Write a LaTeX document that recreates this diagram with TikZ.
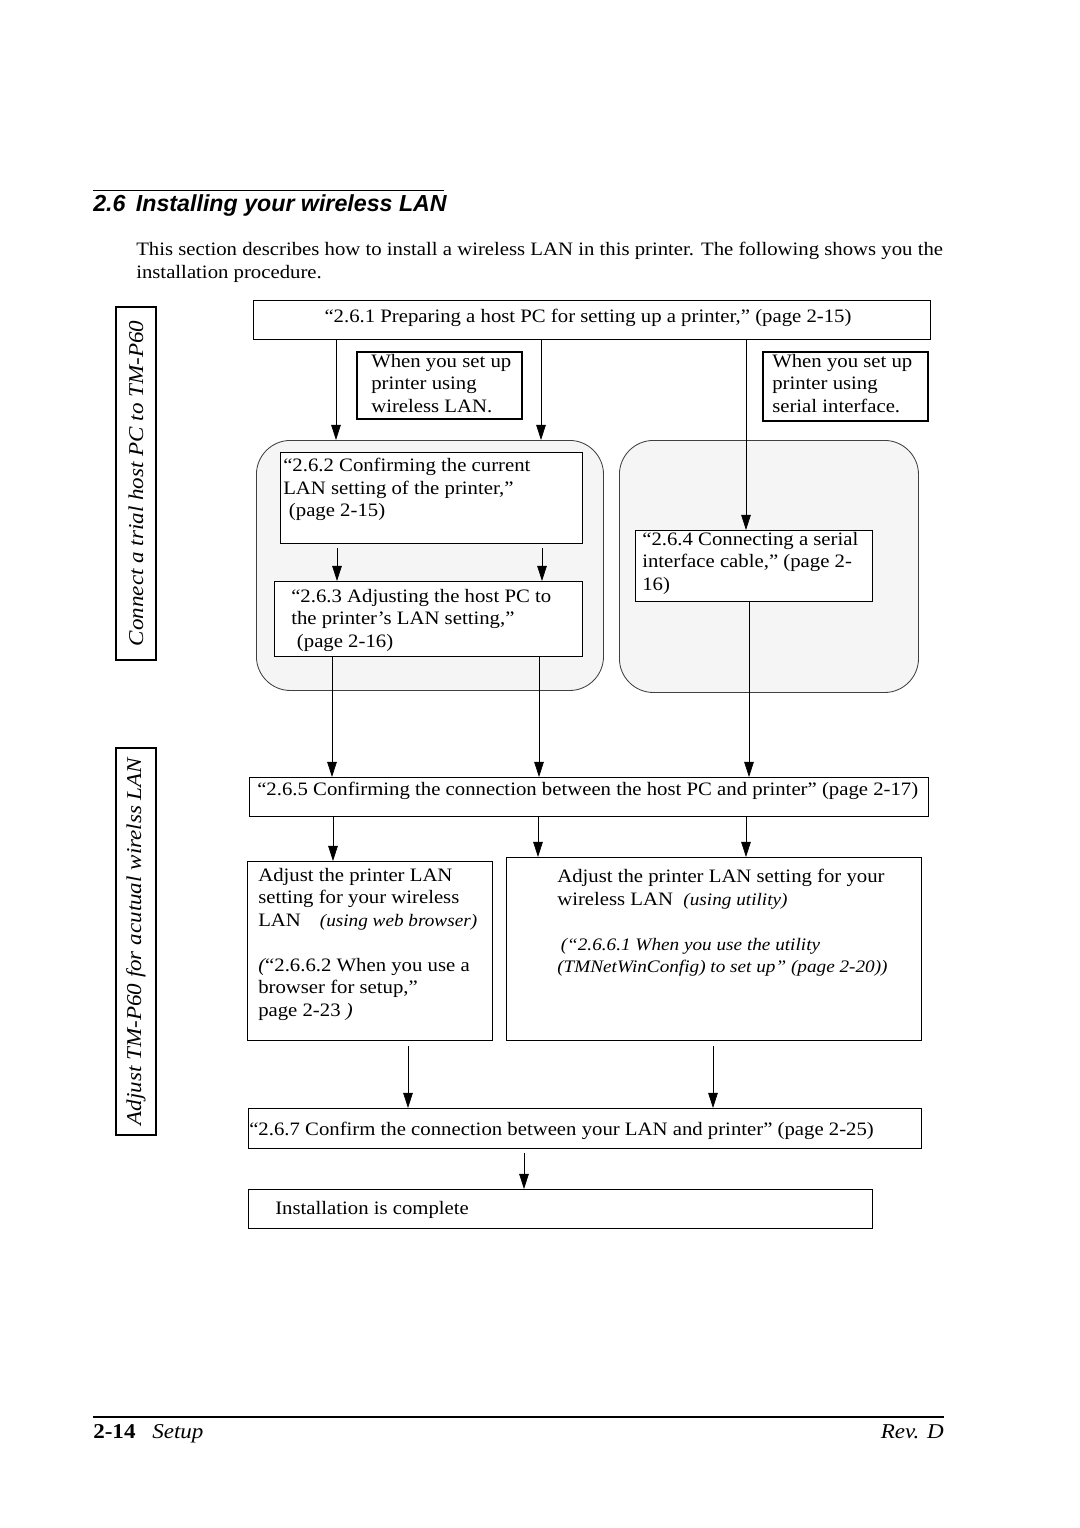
\documentclass[tikz,border=0pt]{standalone}
\usepackage{fontspec}
\setmainfont{Liberation Serif}[FakeStretch=1.093]
\newfontfamily\headfont{Liberation Sans}
\usetikzlibrary{arrows.meta,positioning}

\begin{document}
\begin{tikzpicture}[x=0.025cm,y=-0.025cm,
	box/.style={draw,fill=white,line width=0.6pt,inner sep=0pt,anchor=north west},
	tagbox/.style={draw,fill=white,line width=1.4pt,inner sep=0pt,anchor=north west},
	grp/.style={draw=black!75,fill=black!4,line width=0.6pt,rounded corners=0.85cm,inner sep=0pt,anchor=north west},
	txt/.style={inner sep=0pt,anchor=north west,align=left,font=\fontsize{13.5}{16}\selectfont},
	line/.style={inner sep=0pt,anchor=base west,font=\fontsize{13.5}{16}\selectfont},
	side/.style={draw,line width=1pt,rotate=90,inner sep=0pt,minimum height=1cm,font=\fontsize{15}{18}\selectfont\itshape},
	arr/.style={line width=0.5pt,-{Triangle[length=0.38cm,width=0.24cm]}}]

	%Page has the size of the scan (1080 x 1528 px)
	\useasboundingbox (0,0) rectangle (1080,1528);

	%Heading and intro text
	\draw[line width=0.7pt] (93,190) -- (444,190);
	\node[inner sep=0pt,anchor=base west,font=\headfont\fontsize{16.5}{20}\selectfont\bfseries\itshape] (head) at (93,211) {2.6\hspace{0.45em}Installing your wireless LAN};
	\node[txt] (intro) at (136,242) {This section describes how to install a wireless LAN in this printer. The following shows you the\\installation procedure.};

	%Side labels
	\node[side,minimum width=8.825cm] (sideA) at (136,483.5) {Connect a trial host PC to TM-P60};
	\node[side,minimum width=9.675cm] (sideB) at (136,941.5) {Adjust TM-P60 for acutual wirelss LAN};

	%Gray groups
	\node[grp,minimum width=8.675cm,minimum height=6.25cm] (grpL) at (256,440) {};
	\node[grp,minimum width=7.475cm,minimum height=6.3cm] (grpR) at (619,440) {};

	%2.6.1
	\node[box,minimum width=16.925cm,minimum height=0.975cm] (b261) at (253,300) {};
	\node[line,anchor=base] (t261) at (588,322) {``2.6.1 Preparing a host PC for setting up a printer,'' (page 2-15)};

	%When you set up ...
	\node[tagbox,minimum width=4.125cm,minimum height=1.675cm] (tagL) at (356,351) {};
	\node[txt] (ttagL) at (371,354) {When you set up\\printer using\\wireless LAN.};
	\node[tagbox,minimum width=4.125cm,minimum height=1.725cm] (tagR) at (762,351) {};
	\node[txt] (ttagR) at (772,354) {When you set up\\printer using\\serial interface.};

	%2.6.2, 2.6.3 and 2.6.4
	\node[box,minimum width=7.55cm,minimum height=2.275cm] (b262) at (280,452) {};
	\node[txt] (t262) at (283,458) {``2.6.2 Confirming the current\\LAN setting of the printer,''\\\hspace{0.3em}(page 2-15)};
	\node[box,minimum width=7.7cm,minimum height=1.875cm] (b263) at (274,581) {};
	\node[txt] (t263) at (291,589) {``2.6.3 Adjusting the host PC to\\the printer's LAN setting,''\\\hspace{0.3em}(page 2-16)};
	\node[box,minimum width=5.925cm,minimum height=1.775cm] (b264) at (635,530) {};
	\node[txt] (t264) at (642,532) {``2.6.4 Connecting a serial\\interface cable,'' (page 2-\\16)};

	%2.6.5
	\node[box,minimum width=16.975cm,minimum height=0.975cm] (b265) at (249,777) {};
	\node[line] (t265) at (257,795) {``2.6.5 Confirming the connection between the host PC and printer'' (page 2-17)};

	%2.6.6.x
	\node[box,minimum width=6.125cm,minimum height=4.475cm] (b2662) at (247,861) {};
	\node[txt] (t2662) at (258,868) {Adjust the printer LAN\\setting for your wireless\\LAN\quad{\fontsize{12.5}{16}\selectfont\itshape (using web browser)}\\[16pt]{\itshape(}``2.6.6.2 When you use a\\browser for setup,''\\page 2-23 {\itshape)}};
	\node[box,minimum width=10.375cm,minimum height=4.575cm] (b2661) at (506,857) {};
	\node[txt] (t2661) at (557,869) {Adjust the printer LAN setting for your\\wireless LAN\ \ {\fontsize{12.5}{16}\selectfont\itshape(using utility)}\\[16pt]{\fontsize{12.5}{16}\selectfont\itshape\hspace{0.2em}(``2.6.6.1 When you use the utility}\\{\fontsize{12.5}{16}\selectfont\itshape(TMNetWinConfig) to set up'' (page 2-20))}};

	%2.6.7 and end
	\node[box,minimum width=16.825cm,minimum height=1cm] (b267) at (248,1108) {};
	\node[line] (t267) at (249,1135) {``2.6.7 Confirm the connection between your LAN and printer'' (page 2-25)};
	\node[box,minimum width=15.6cm,minimum height=0.975cm] (bend) at (248,1189) {};
	\node[line] (tend) at (275,1214) {Installation is complete};

	%Arrows: x position / from / to / gap
	\foreach \x/\a/\b/\g in {336/b261/grpL/0cm, 541/b261/grpL/0cm, 746/b261/b264/0cm,
		337/b262/b263/0.1cm, 542/b262/b263/0.1cm,
		332/b263/b265/0cm, 539/b263/b265/0cm, 749/b264/b265/0cm,
		333/b265/b2662/0cm, 538/b265/b2661/0cm, 746/b265/b2661/0cm,
		408/b2662/b267/0.125cm, 713/b2661/b267/0.125cm, 524/b267/bend/0.1cm}
	{
		\coordinate (col) at (\x,0);
		\draw[arr,shorten <=\g] (\a.south -| col) -- (\b.north -| col);
	}

	%Footer
	\draw[line width=1.2pt] (93,1417) -- (944,1417);
	\node[inner sep=0pt,anchor=base west,font=\fontsize{15}{18}\selectfont\bfseries] (fnum) at (93,1438) {2-14};
	\node[inner sep=0pt,anchor=base west,font=\fontsize{15}{18}\selectfont\itshape] (fsec) at (152,1438) {Setup};
	\node[inner sep=0pt,anchor=base east,font=\fontsize{15}{18}\selectfont\itshape] (frev) at (944,1438) {Rev. D};

\end{tikzpicture}
\end{document}
